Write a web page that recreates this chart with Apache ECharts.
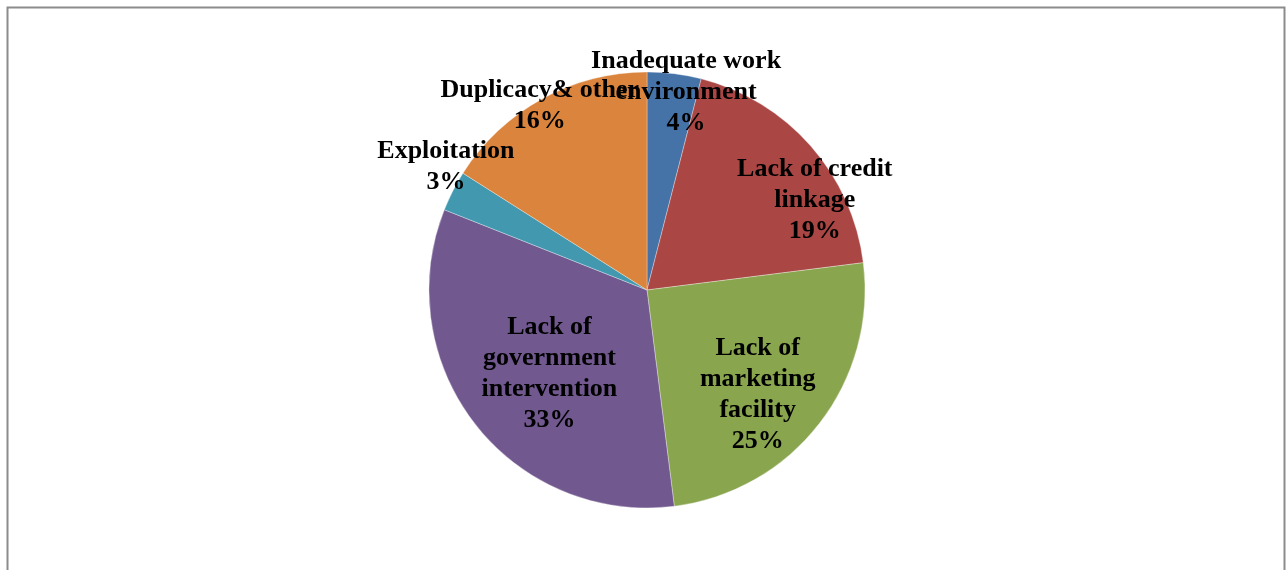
<!DOCTYPE html>
<html>
<head>
<meta charset="utf-8">
<style>
  html, body { margin: 0; padding: 0; background: #fff; }
  #chart { width: 1286px; height: 570px; }
</style>
<script src="https://cdn.jsdelivr.net/npm/echarts@6/dist/echarts.min.js"></script>
</head>
<body>
<div id="chart"></div>
<script>
// Problem categories (line breaks follow the wrapped label text)
const categories = [
  'Inadequate work\nenvironment',
  'Lack of credit\nlinkage',
  'Lack of\nmarketing\nfacility',
  'Lack of\ngovernment\nintervention',
  'Exploitation',
  'Duplicacy& other'
];
// Share of respondents, in percent
const shares = [4, 19, 25, 33, 3, 16];
const sliceColors = ['#4572A7', '#AA4643', '#89A54E', '#71588F', '#4198AF', '#DB843D'];

// Where each data label sits: [fraction of radius, angle clockwise from 12 o'clock]
const labelPolar = [
  [0.94, 11], [0.88, 61], [0.69, 132.6], [0.58, 230.5], [1.09, 302.2], [0.99, 330.2]
];

const CX = 647, CY = 290, R = 218;
const LABEL_DROP = 3; // serif glyphs sit a little high in their line box

const chart = echarts.init(document.getElementById('chart'), null, { renderer: 'canvas' });

chart.setOption({
  animation: false,
  backgroundColor: '#ffffff',
  graphic: [{
    type: 'rect',
    shape: { x: 7.5, y: 7.5, width: 1277, height: 620 },
    style: { fill: 'none', stroke: '#8c8c8c', lineWidth: 2 },
    silent: true,
    z: -10
  }],
  series: [{
    type: 'pie',
    center: [CX, CY],
    radius: [0, R],
    startAngle: 90,
    clockwise: true,
    avoidLabelOverlap: false,
    itemStyle: { borderColor: 'rgba(255,255,255,0.55)', borderWidth: 0.6 },
    label: {
      show: true,
      position: 'inside',
      formatter: p => p.name + '\n' + p.value + '%',
      color: '#000',
      fontFamily: '"Liberation Serif", "Times New Roman", serif',
      fontWeight: 'bold',
      fontSize: 26,
      lineHeight: 31,
      align: 'center'
    },
    labelLine: { show: false },
    labelLayout: function (params) {
      const pos = labelPolar[params.dataIndex];
      const a = pos[1] * Math.PI / 180;
      return {
        x: CX + pos[0] * R * Math.sin(a),
        y: CY - pos[0] * R * Math.cos(a) + LABEL_DROP,
        align: 'center',
        verticalAlign: 'middle'
      };
    },
    emphasis: { disabled: true },
    data: categories.map((name, i) => ({
      name: name,
      value: shares[i],
      itemStyle: { color: sliceColors[i] }
    }))
  }]
});
</script>
</body>
</html>
